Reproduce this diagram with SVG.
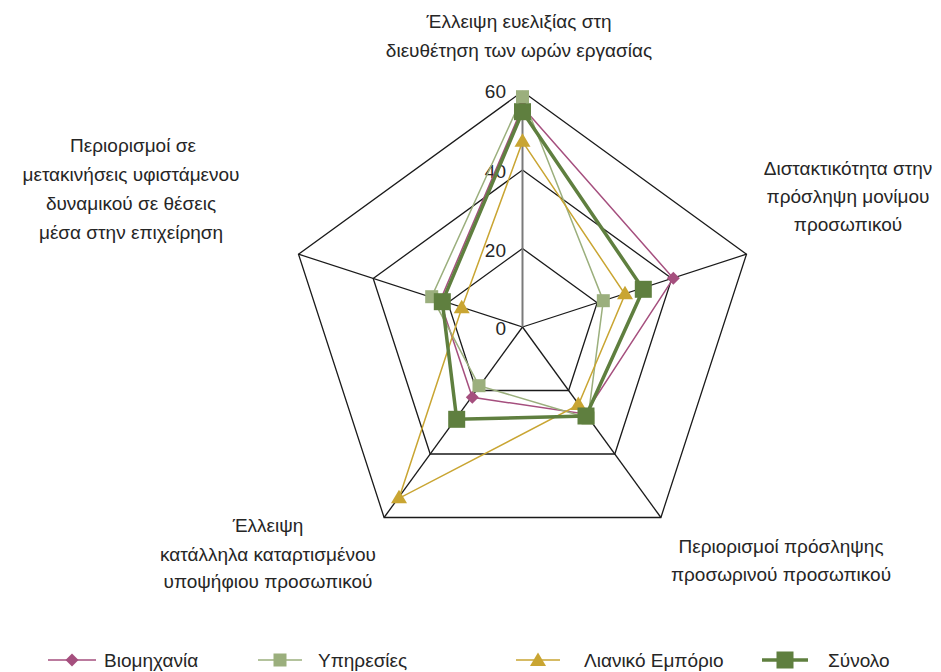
<svg xmlns="http://www.w3.org/2000/svg" width="941" height="672" viewBox="0 0 941 672">
<style>
text{font-family:"Liberation Sans","Noto Sans",sans-serif;fill:#262626;}
.lbl{font-size:19px;text-anchor:middle;}
.tick{font-size:19px;text-anchor:end;}
.leg{font-size:19px;}
.ring{fill:none;stroke:#1a1a1a;stroke-width:1.3;}
.ax{stroke:#1a1a1a;stroke-width:1.3;}
.s1{fill:none;stroke:#A54F7E;stroke-width:1.5;}
.s2{fill:none;stroke:#9BAF7D;stroke-width:1.5;}
.s3{fill:none;stroke:#C9A532;stroke-width:1.5;}
.s4{fill:none;stroke:#5F7F3F;stroke-width:3.5;}
.m1{fill:#A54F7E;}
.m2{fill:#9BAF7D;}
.m3{fill:#C9A532;}
.m4{fill:#5F7F3F;}
</style>
<defs>
<path id="dia" d="M0,-6.5 L6.5,0 L0,6.5 L-6.5,0 Z"/>
<rect id="sq" x="-6.5" y="-6.5" width="13" height="13"/>
<path id="tri" d="M0,-8.5 L8,5 L-8,5 Z"/>
<rect id="bsq" x="-8.5" y="-8.5" width="17" height="17"/>
</defs>
<g id="grid">
<polygon class="ring" points="522.5,91.5 746.5,254.2 660.9,517.5 384.1,517.5 298.5,254.2"/>
<polygon class="ring" points="522.5,170 671.8,278.5 614.8,454 430.2,454 373.2,278.5"/>
<polygon class="ring" points="522.5,248.5 597.2,302.7 568.6,390.5 476.4,390.5 447.8,302.7"/>
<line class="ax" x1="522.5" y1="327" x2="746.5" y2="254.2"/>
<line class="ax" x1="522.5" y1="327" x2="660.9" y2="517.5"/>
<line class="ax" x1="522.5" y1="327" x2="384.1" y2="517.5"/>
<line class="ax" x1="522.5" y1="327" x2="298.5" y2="254.2"/>
<line x1="522.5" y1="327" x2="522.5" y2="91.5" stroke="#7a7a7a" stroke-width="2"/>
<text class="tick" x="506" y="98">60</text>
<text class="tick" x="506" y="178">40</text>
<text class="tick" x="506" y="257">20</text>
<text class="tick" x="506" y="335">0</text>
</g>
<g id="labels">
<text class="lbl" x="519" y="28">Έλλειψη ευελιξίας στη</text>
<text class="lbl" x="519" y="57">διευθέτηση των ωρών εργασίας</text>
<text class="lbl" x="848" y="175">Διστακτικότητα στην</text>
<text class="lbl" x="848" y="203">πρόσληψη μονίμου</text>
<text class="lbl" x="848" y="231">προσωπικού</text>
<text class="lbl" x="781" y="553">Περιορισμοί πρόσληψης</text>
<text class="lbl" x="781" y="581">προσωρινού προσωπικού</text>
<text class="lbl" x="268" y="532">Έλλειψη</text>
<text class="lbl" x="268" y="561">κατάλληλα καταρτισμένου</text>
<text class="lbl" x="268" y="588">υποψήφιου προσωπικού</text>
<text class="lbl" x="133" y="152">Περιορισμοί σε</text>
<text class="lbl" x="131" y="181">μετακινήσεις υφιστάμενου</text>
<text class="lbl" x="131" y="210">δυναμικού σε θέσεις</text>
<text class="lbl" x="131" y="239">μέσα στην επιχείρηση</text>
</g>
<g id="connectors">
<polygon class="s1" points="522.5,107 673.3,278.3 585,414 472.3,397.3 440,301"/>
<polygon class="s2" points="522.5,96.7 603.3,300.7 588,418 479,385.7 431.7,296.7"/>
<polygon class="s3" points="522.5,141.7 625,294.3 578.3,405 399,498.3 461.7,308.3"/>
<polygon class="s4" points="522.5,111.7 643.3,289.3 586,416 456.7,419.3 442.3,301.7"/>
</g>
<g id="series-industry" class="m1">
<use href="#dia" x="522.5" y="107"/>
<use href="#dia" x="673.3" y="278.3"/>
<use href="#dia" x="585" y="414"/>
<use href="#dia" x="472.3" y="397.3"/>
<use href="#dia" x="440" y="301"/>
</g>
<g id="series-services" class="m2">
<use href="#sq" x="522.5" y="96.7"/>
<use href="#sq" x="603.3" y="300.7"/>
<use href="#sq" x="588" y="418"/>
<use href="#sq" x="479" y="385.7"/>
<use href="#sq" x="431.7" y="296.7"/>
</g>
<g id="series-retail" class="m3">
<use href="#tri" x="522.5" y="141.7"/>
<use href="#tri" x="625" y="294.3"/>
<use href="#tri" x="578.3" y="405"/>
<use href="#tri" x="399" y="498.3"/>
<use href="#tri" x="461.7" y="308.3"/>
</g>
<g id="series-total" class="m4">
<use href="#bsq" x="522.5" y="111.7"/>
<use href="#bsq" x="643.3" y="289.3"/>
<use href="#bsq" x="586" y="416"/>
<use href="#bsq" x="456.7" y="419.3"/>
<use href="#bsq" x="442.3" y="301.7"/>
</g>
<g id="legend">
<line class="s1" x1="48" y1="660" x2="96" y2="660"/>
<use href="#dia" x="72" y="660" class="m1"/>
<text class="leg" x="104" y="667">Βιομηχανία</text>
<line class="s2" x1="258" y1="660" x2="302" y2="660"/>
<use href="#sq" x="280" y="660" class="m2"/>
<text class="leg" x="318" y="667">Υπηρεσίες</text>
<line class="s3" x1="516" y1="660" x2="560" y2="660"/>
<use href="#tri" x="538" y="661" class="m3"/>
<text class="leg" x="584" y="667">Λιανικό Εμπόριο</text>
<line class="s4" x1="762" y1="660" x2="808" y2="660"/>
<use href="#bsq" x="785" y="660" class="m4"/>
<text class="leg" x="828" y="667">Σύνολο</text>
</g>
</svg>
